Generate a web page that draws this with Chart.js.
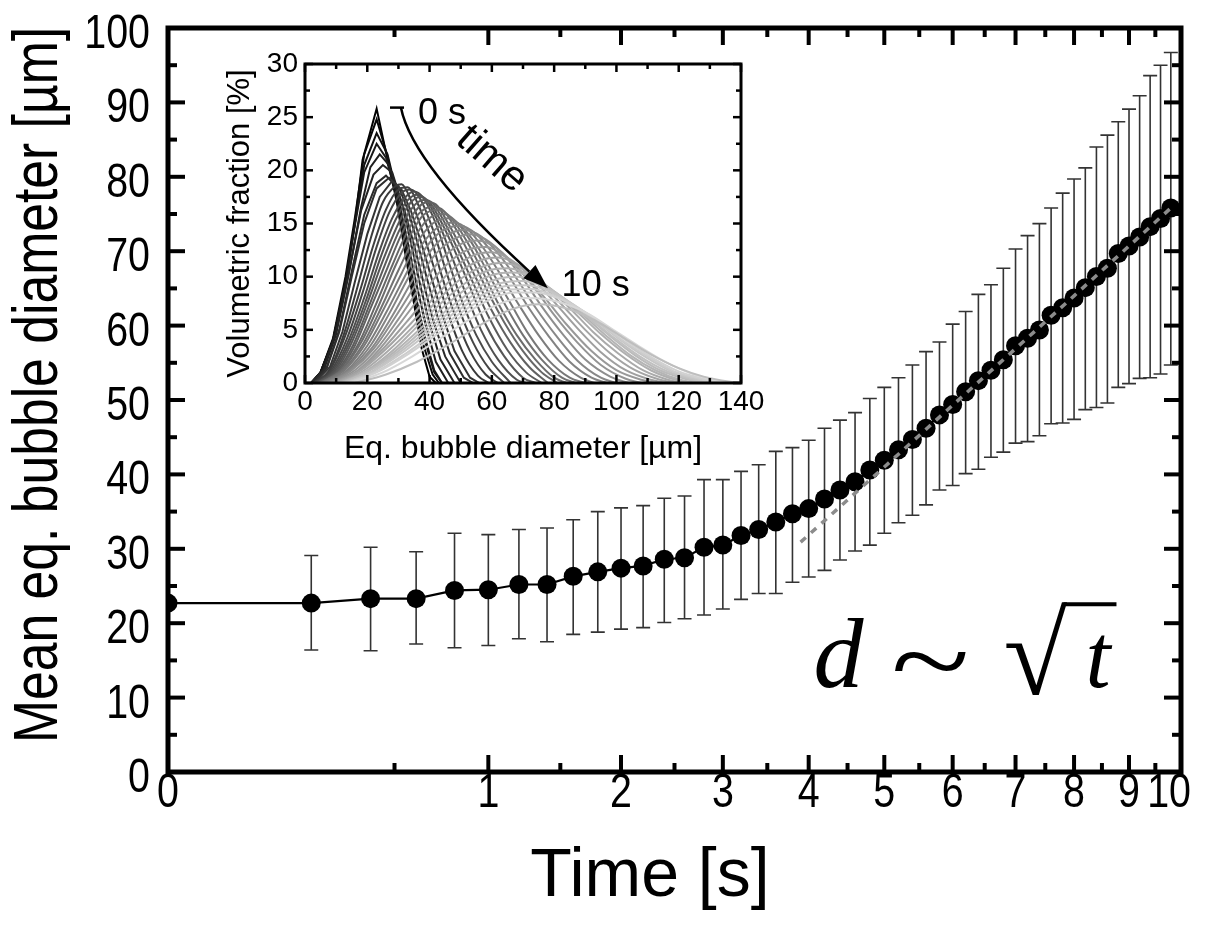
<!DOCTYPE html>
<html>
<head>
<meta charset="utf-8">
<script src="https://cdn.jsdelivr.net/npm/chart.js@4.4.1/dist/chart.umd.min.js"></script>
<style>
  html, body { margin: 0; padding: 0; background: #fff; }
  #wrap { position: relative; width: 1218px; height: 926px; }
  #main { position: absolute; left: 0; top: 0; }
  #inset { position: absolute; left: 200px; top: 40px; }
</style>
</head>
<body>
<div id="wrap">
  <canvas id="main" width="1218" height="926"></canvas>
  <canvas id="inset" width="580" height="430"></canvas>
</div>
<script>
// main plot: mean bubble diameter vs time (x axis is sqrt(t))
const timeS = [0, 0.2, 0.4, 0.6, 0.8, 1, 1.2, 1.4, 1.6, 1.8, 2, 2.2, 2.4, 2.6, 2.8, 3, 3.2, 3.4, 3.6, 3.8,
  4, 4.2, 4.4, 4.6, 4.8, 5, 5.2, 5.4, 5.6, 5.8, 6, 6.2, 6.4, 6.6, 6.8, 7, 7.2, 7.4, 7.6, 7.8,
  8, 8.2, 8.4, 8.6, 8.8, 9, 9.2, 9.4, 9.6, 9.8];
const meanDiam = [22.7, 22.7, 23.3, 23.3, 24.4, 24.5, 25.2, 25.2, 26.3, 26.9, 27.4, 27.7, 28.6, 28.8, 30.2, 30.5, 31.8, 32.6, 33.6, 34.7,
  35.4, 36.7, 37.9, 39.0, 40.6, 41.9, 43.3, 44.7, 46.2, 48.0, 49.4, 51.1, 52.6, 54.0, 55.4, 57.3, 58.3, 59.4, 61.4, 62.4,
  63.7, 65.1, 66.6, 67.7, 69.7, 70.7, 71.9, 73.3, 74.4, 75.8];
const errHigh = [null, 29.1, 30.2, 29.6, 32.1, 31.9, 32.6, 32.8, 33.9, 35.0, 35.5, 35.8, 36.8, 37.1, 39.3, 39.3, 40.4, 41.3, 43.1, 43.6,
  44.6, 46.2, 47.3, 48.3, 50.2, 51.7, 53.0, 54.7, 56.5, 57.8, 60.2, 61.9, 64.2, 65.5, 67.7, 70.3, 72.1, 73.7, 75.8, 77.8,
  79.7, 81.2, 84.0, 85.6, 87.4, 89.1, 90.9, 93.6, 95.0, 96.7];
const errLow = [null, 16.4, 16.3, 17.2, 16.7, 17.0, 17.9, 17.5, 18.5, 18.8, 19.2, 19.4, 20.1, 20.6, 21.1, 21.9, 23.2, 24.0, 24.0, 25.5,
  26.2, 27.1, 28.5, 29.7, 30.5, 32.1, 33.5, 34.5, 35.9, 37.9, 38.5, 40.1, 40.7, 42.3, 43.0, 44.2, 44.4, 45.2, 46.8, 46.9,
  47.4, 48.7, 49.0, 49.6, 51.7, 52.2, 52.9, 53.0, 53.5, 54.7];
// d ~ sqrt(t) fit, grey dashed
const fitTime = [3.9, 5, 6, 7, 8, 9, 9.8];
const fitDiam = [30.9, 41.0, 49.3, 56.9, 64.0, 70.7, 75.8];

const timeTicks = [0, 1, 2, 3, 4, 5, 6, 7, 8, 9, 10];
const timeMinor = [0.5, 1.5, 2.5, 3.5, 4.5, 5.5, 6.5, 7.5, 8.5, 9.5];
const diamTicks = [0, 10, 20, 30, 40, 50, 60, 70, 80, 90, 100];
const diamMinor = [5, 15, 25, 35, 45, 55, 65, 75, 85, 95];

// inset: size distributions, 0 s (black) -> 10 s (light grey), [diameter um, fraction %]
const insetCurves = [
  [[2,0],[5,1],[9,4],[13,9.5],[16,15],[18.5,21],[23,25.8],[26.5,21],[29.5,17],[32,12.5],[35,7.5],[37.5,3.2],[40,0.6],[42,0]],
  [[2,0],[5,1],[9,4.2],[13,10],[16,15.5],[19,21.5],[23,24.8],[26.5,21.3],[29.5,17.3],[32,13],[35,8],[38,3.6],[41,0.8],[43,0]],
  [[2,0],[5,1],[9,4],[13,9.5],[16,15],[19,20.5],[23,23.5],[26.5,21.5],[29.5,17.8],[32.5,13],[35.5,8.3],[38.5,4],[41.5,1],[44,0]],
  [[2,0],[5,1],[9,4],[13,9.5],[16,14.8],[19,19.8],[23,22.5],[26,21.2],[29,18],[32,13.5],[35,8.7],[38.5,4.3],[41.5,1.2],[44,0]],
  [[2,0],[6,1.2],[10,4.6],[14,10.2],[18,16.5],[21,20.3],[24,21.5],[27,20.5],[30,17.3],[33,13.2],[36,9],[39,5.2],[42,2],[46,0]],
  [[2,0],[6,1.3],[10,4.8],[14,10.3],[18,16.2],[22,19.6],[25,20.5],[28,19.8],[31,17],[34,13.2],[37,9.2],[40,5.6],[43.5,2.2],[48,0]],
  [[2,0],[7,1.5],[11,5],[15,10.5],[19,15.8],[23,18.8],[26,19.5],[29,18.6],[32,16.2],[35,13],[38,9.5],[41,6],[45,2.5],[50,0]],
  [[3,0],[7,1.4],[11,4.8],[15,10],[19,15],[23,18.3],[27,19.3],[30,18.5],[33,16.3],[36,13.3],[39,10],[42.5,6.3],[46.5,2.8],[51,0.5],[54,0]],
  [[3,0],[8,1.5],[12,4.8],[16,9.5],[20,14],[24,17.5],[28,19],[31,18.2],[34,16.2],[37,13.5],[40,10.5],[44,6.5],[48,3],[53,0.5],[56,0]],
  [[3,0],[8,1.3],[12.5,4.6],[17,9.2],[21,13.5],[25,17],[29,18.5],[31,18.7],[34,17.2],[38,14],[42,10.3],[46,6.5],[50.5,3],[55.5,0.7],[59,0]],
  [[3,0],[8,1.2],[13,4.5],[18,9],[22,13],[26,16.3],[30,18.2],[33,18.4],[36,17],[40,14],[44,10],[48,6.5],[53,3],[58,0.8],[62,0]],
  [[3.5,0],[8.5,1.2],[13.5,4.2],[18.5,8.5],[23,12.8],[27,16],[31,17.9],[34,18.2],[37,17.3],[41,14.5],[45,10.8],[49,7.3],[54,3.8],[59,1.4],[64,0]],
  [[4,0],[9,1.2],[14,4],[19,8],[24,12.5],[28,15.5],[32,17.4],[35,18],[38,17.4],[42,15],[46,11.5],[50,8],[55,4.5],[60,2],[66,0]],
  [[4,0],[9.5,1.2],[14.5,3.9],[19.5,7.7],[24.5,12],[29,15.3],[33,17.2],[36,17.7],[39,17.2],[43,15],[47,12],[51.5,8.5],[56.5,5],[62,2.2],[68,0.3],[71,0]],
  [[4,0],[10,1.2],[15,3.8],[20,7.5],[25,11.5],[30,15],[34,17],[37,17.5],[40,17],[44,15],[48,12.5],[53,9],[58,5.5],[64,2.5],[70,0.5],[74,0]],
  [[4.5,0],[10.5,1.2],[15.5,3.6],[20.5,7.2],[25.5,11],[30.5,14.5],[34.5,16.5],[38,17.2],[41,16.9],[45,15],[49,12.6],[54,9.4],[59,6.2],[65,3.1],[71,1],[76,0]],
  [[5,0],[11,1.2],[16,3.5],[21,7],[26,10.5],[31,14],[35,16],[39,17],[42,16.8],[46,15],[50,12.8],[55,9.8],[60,6.8],[66,3.8],[72,1.5],[78,0]],
  [[5,0],[11.5,1.2],[17,3.6],[22.5,7.2],[27.5,10.7],[32.5,14],[36.5,15.9],[41,16.6],[44.5,16.2],[49,14.2],[53.5,11.7],[58.5,8.7],[64,5.7],[70,3],[76,1],[81,0]],
  [[5,0],[12,1.3],[18,3.8],[24,7.5],[29,11],[34,14],[38,15.8],[43,16.3],[47,15.5],[52,13.3],[57,10.5],[62,7.5],[68,4.5],[74,2.2],[80,0.5],[84,0]],
  [[5.5,0],[12.5,1.3],[18.5,3.6],[24.5,7.1],[30,10.6],[35,13.6],[39.5,15.4],[44.5,15.9],[48.5,15.2],[53.5,13.2],[58.5,10.5],[64,7.5],[70,4.5],[76,2.2],[82.5,0.5],[87,0]],
  [[6,0],[13,1.3],[19,3.5],[25,6.8],[31,10.3],[36,13.2],[41,15],[46,15.5],[50,14.8],[55,13],[60,10.5],[66,7.5],[72,4.5],[78,2.2],[85,0.5],[90,0]],
  [[6.5,0],[13.5,1.2],[20,3.5],[26,6.6],[32,10],[37.5,13],[42.5,14.6],[48,15.1],[52.5,14.4],[57.5,12.6],[63,10.1],[69,7.2],[75,4.5],[81.5,2.1],[88.5,0.5],[93,0]],
  [[7,0],[14,1.2],[21,3.5],[27,6.5],[33,9.8],[39,12.8],[44,14.3],[50,14.8],[55,14],[60,12.3],[66,9.8],[72,7],[78,4.5],[85,2],[92,0.5],[97,0]],
  [[7.5,0],[14.5,1.2],[21.5,3.3],[28,6.3],[34,9.4],[40,12.3],[45.5,13.9],[51.5,14.4],[56.5,13.8],[62,12.2],[68,9.8],[74,7.1],[80.5,4.5],[87.5,2.1],[95,0.5],[100,0]],
  [[8,0],[15,1.2],[22,3.2],[29,6.2],[35,9],[41,11.8],[47,13.4],[53,14],[58,13.5],[64,12],[70,9.8],[76,7.2],[83,4.5],[90,2.2],[98,0.6],[104,0]],
  [[8.5,0],[16,1.2],[23,3.2],[30,6],[36.5,8.8],[43,11.4],[49.5,13],[55.5,13.4],[61,12.8],[67,11.2],[73.5,9],[80,6.4],[87.5,3.8],[95,1.7],[103,0.4],[108,0]],
  [[9,0],[17,1.2],[24,3.2],[31,5.8],[38,8.5],[45,11],[52,12.5],[58,12.8],[64,12],[70,10.3],[77,8],[84,5.5],[92,3],[100,1.2],[108,0.3],[113,0]],
  [[9.5,0],[17.5,1.2],[25,3.2],[32.5,5.7],[40,8.3],[47,10.6],[54,12],[60,12.3],[66,11.6],[72.5,10],[79.5,7.8],[87,5.3],[95,2.9],[103,1.2],[111,0.3],[116,0]],
  [[10,0],[18,1.2],[26,3.2],[34,5.6],[42,8.2],[49,10.3],[56,11.5],[62,11.8],[68,11.2],[75,9.6],[82,7.5],[90,5],[98,2.8],[106,1.2],[114,0.3],[119,0]],
  [[10.5,0],[19,1.2],[27,3.1],[35,5.4],[43,7.9],[50.5,9.9],[57.5,11],[63.5,11.3],[70,10.7],[77,9.2],[84.5,7.2],[92.5,4.8],[100.5,2.8],[108.5,1.2],[116.5,0.3],[121,0]],
  [[11,0],[20,1.2],[28,3],[36,5.3],[44,7.6],[52,9.5],[59,10.6],[65,10.8],[72,10.2],[79,8.8],[87,6.8],[95,4.6],[103,2.7],[111,1.2],[119,0.3],[124,0]],
  [[11.5,0],[20.5,1.2],[29,3],[37,5.1],[45.5,7.4],[53.5,9.2],[60.5,10.2],[66.5,10.4],[73.5,9.9],[80.5,8.5],[88.5,6.6],[96.5,4.5],[104.5,2.6],[112.5,1.2],[120.5,0.3],[126,0]],
  [[12,0],[21,1.2],[30,3],[38,5],[47,7.2],[55,8.9],[62,9.8],[68,10],[75,9.5],[82,8.2],[90,6.4],[98,4.4],[106,2.6],[114,1.2],[122,0.4],[128,0]],
  [[12.5,0],[21.5,1.1],[30.5,2.9],[39,4.9],[48,7],[56,8.6],[63,9.4],[69.5,9.6],[76.5,9.1],[83.5,7.9],[91.5,6.1],[99.5,4.2],[107.5,2.5],[115.5,1.2],[123.5,0.4],[129,0]],
  [[13,0],[22,1.1],[31,2.8],[40,4.8],[49,6.8],[57,8.3],[64,9.1],[71,9.2],[78,8.7],[85,7.6],[93,5.9],[101,4.1],[109,2.5],[117,1.2],[125,0.4],[131,0]],
  [[13.5,0],[22.5,1],[32,2.7],[41,4.6],[50,6.6],[58,8],[65.5,8.8],[72.5,8.85],[79.5,8.3],[86.5,7.3],[94.5,5.7],[102.5,3.9],[110.5,2.4],[118.5,1.1],[126.5,0.4],[132,0]],
  [[14,0],[23,1],[33,2.7],[42,4.5],[51,6.4],[59,7.8],[67,8.5],[74,8.5],[81,8],[88,7],[96,5.5],[104,3.8],[112,2.3],[120,1.1],[128,0.4],[134,0]],
  [[15,0],[25,1],[35,2.6],[44,4.3],[53,6],[62,7.4],[70,8],[77,7.9],[84,7.4],[91,6.5],[99,5],[107,3.5],[115,2.1],[123,1],[131,0.3],[137,0]],
  [[16,0],[26,0.8],[36,2],[46,3.6],[56,5.4],[66,6.9],[75,7.4],[84,7],[93,5.9],[102,4.3],[111,2.7],[120,1.4],[128,0.6],[136,0.15],[140,0.05]]
];
const insetDiamMinor = [10, 30, 50, 70, 90, 110, 130];
const insetFracMinor = [2.5, 7.5, 12.5, 17.5, 22.5, 27.5];

// annotation anchors (data coords)
const lawAt = { t: 4.06, d: 11.4 };
const arrowBar = [[27.3, 25.9], [31.8, 25.9]];
const arrowPath = [[30.8, 25.9], [34.4, 20.5], [78.0, 8.9]];

Chart.defaults.font.family = '"Liberation Sans", Arial, sans-serif';
Chart.defaults.color = '#000';

const SANS = '"Liberation Sans", Arial, sans-serif';
const sq = t => Math.sqrt(t);

// text helper: optional rotation and horizontal squeeze (figure font is narrow)
function putText(ctx, text, x, y, o) {
  ctx.save();
  ctx.translate(x, y);
  if (o.rot) ctx.rotate(o.rot);
  ctx.scale(o.sx || 1, 1);
  ctx.font = o.font;
  ctx.textAlign = o.align || 'center';
  ctx.textBaseline = 'alphabetic';
  ctx.fillStyle = '#000';
  ctx.fillText(text, 0, o.dy || 0);
  ctx.restore();
}

// inward ticks on all four sides + thick box
const framePlugin = {
  id: 'frame',
  afterDraw(chart, args, o) {
    const { ctx, chartArea: a, scales: { x, y } } = chart;
    ctx.save();
    ctx.strokeStyle = '#000';
    ctx.lineWidth = o.tickWidth;
    const seg = (x1, y1, x2, y2) => { ctx.beginPath(); ctx.moveTo(x1, y1); ctx.lineTo(x2, y2); ctx.stroke(); };
    const xt = (v, len) => { const p = x.getPixelForValue(v); seg(p, a.bottom, p, a.bottom - len); seg(p, a.top, p, a.top + len); };
    const yt = (v, len) => { const p = y.getPixelForValue(v); seg(a.left, p, a.left + len, p); seg(a.right, p, a.right - len, p); };
    x.ticks.forEach(t => xt(t.value, o.major));
    o.xMinor.forEach(v => xt(v, o.minor));
    y.ticks.forEach(t => yt(t.value, o.major));
    o.yMinor.forEach(v => yt(v, o.minor));
    ctx.lineWidth = o.lineWidth;
    ctx.strokeRect(a.left, a.top, a.right - a.left, a.bottom - a.top);
    ctx.restore();
  }
};

// tick labels and axis titles of the main plot
const mainLabels = {
  id: 'mainLabels',
  afterDraw(chart) {
    const { ctx, chartArea: a, scales: { x, y } } = chart;
    const tickFont = `48px ${SANS}`;
    ctx.save();
    ctx.font = tickFont;
    timeTicks.forEach(t => {
      const w = ctx.measureText(String(t)).width * 0.82;
      const p = Math.min(x.getPixelForValue(sq(t)), chart.width - 27 - w / 2);
      putText(ctx, String(t), p, a.bottom + 35, { font: tickFont, sx: 0.82 });
    });
    ctx.restore();
    diamTicks.forEach(v => {
      putText(ctx, String(v), a.left - 18, y.getPixelForValue(v) + 20, { font: tickFont, sx: 0.82, align: 'right' });
    });
    putText(ctx, 'Time [s]', 650, 896, { font: `68px ${SANS}` });
    putText(ctx, 'Mean eq. bubble diameter [\u00B5m]', 40, 385, { font: `63px ${SANS}`, sx: 0.82, rot: -Math.PI / 2, dy: 17 });
  }
};

const errorBarPlugin = {
  id: 'errorBars',
  beforeDatasetsDraw(chart) {
    const { ctx, scales: { x, y } } = chart;
    ctx.save();
    ctx.strokeStyle = '#333';
    ctx.lineWidth = 1.6;
    timeS.forEach((t, i) => {
      if (errHigh[i] == null) return;
      const px = x.getPixelForValue(sq(t));
      const hi = y.getPixelForValue(errHigh[i]);
      const lo = y.getPixelForValue(errLow[i]);
      ctx.beginPath();
      ctx.moveTo(px, hi); ctx.lineTo(px, lo);
      ctx.moveTo(px - 7, hi); ctx.lineTo(px + 7, hi);
      ctx.moveTo(px - 7, lo); ctx.lineTo(px + 7, lo);
      ctx.stroke();
    });
    ctx.restore();
  }
};

const lawPlugin = {
  id: 'law',
  afterDraw(chart) {
    const { ctx, scales: { x, y } } = chart;
    const px = x.getPixelForValue(sq(lawAt.t));
    const base = y.getPixelForValue(lawAt.d);
    ctx.save();
    ctx.fillStyle = '#000';
    ctx.strokeStyle = '#000';
    ctx.textBaseline = 'alphabetic';
    ctx.textAlign = 'left';
    ctx.font = 'italic 100px "Liberation Serif"';
    ctx.fillText('d', px, base);
    ctx.restore();
    // thin math tilde
    putText(ctx, '~', px + 117, base + 12, { font: '112px "Liberation Serif"', sx: 1.3 });
    ctx.save();
    ctx.fillStyle = '#000';
    ctx.strokeStyle = '#000';
    ctx.textBaseline = 'alphabetic';
    ctx.textAlign = 'left';
    ctx.font = '116px "Liberation Serif"';
    const rx = px + 190;
    ctx.fillText('\u221A', rx, base + 7);
    const m = ctx.measureText('\u221A');
    const topY = base + 7 - m.actualBoundingBoxAscent;
    const rEnd = rx + m.actualBoundingBoxRight;
    ctx.font = 'italic 90px "Liberation Serif"';
    const tx = rEnd + 18;
    ctx.fillText('t', tx, base);
    const tw = ctx.measureText('t').width;
    ctx.lineWidth = 4;
    ctx.beginPath();
    ctx.moveTo(rEnd - 4, topY + 2);
    ctx.lineTo(tx + tw + 6, topY + 2);
    ctx.stroke();
    ctx.restore();
  }
};

new Chart(document.getElementById('main'), {
  type: 'line',
  data: {
    datasets: [
      {
        label: 'fit',
        data: fitTime.map((t, i) => ({ x: sq(t), y: fitDiam[i] })),
        borderColor: '#8c8c8c',
        borderWidth: 3.5,
        borderDash: [7, 7],
        pointRadius: 0,
        fill: false
      },
      {
        label: 'mean',
        data: timeS.map((t, i) => ({ x: sq(t), y: meanDiam[i] })),
        borderColor: '#000',
        backgroundColor: '#000',
        borderWidth: 2.2,
        pointRadius: 9.5,
        pointBorderWidth: 0,
        pointBackgroundColor: '#000',
        clip: 0,
        fill: false
      }
    ]
  },
  options: {
    responsive: false,
    animation: false,
    events: [],
    layout: { padding: { left: 0, top: 28, right: 37, bottom: 0 } },
    plugins: {
      legend: { display: false },
      tooltip: { enabled: false },
      frame: { lineWidth: 5, tickWidth: 4, major: 17, minor: 9, xMinor: timeMinor.map(sq), yMinor: diamMinor }
    },
    scales: {
      x: {
        type: 'linear',
        min: 0,
        max: sq(10),
        afterBuildTicks: s => { s.ticks = timeTicks.map(t => ({ value: sq(t) })); },
        afterFit: s => { s.height = 154; },
        grid: { display: false, drawTicks: false },
        border: { display: false },
        ticks: { display: false },
        title: { display: false }
      },
      y: {
        type: 'linear',
        min: 0,
        max: 100,
        afterBuildTicks: s => { s.ticks = diamTicks.map(v => ({ value: v })); },
        afterFit: s => { s.width = 168; },
        grid: { display: false, drawTicks: false },
        border: { display: false },
        ticks: { display: false },
        title: { display: false }
      }
    }
  },
  plugins: [errorBarPlugin, framePlugin, lawPlugin, mainLabels]
});

// inset annotation: 0 s -> time -> 10 s
const timeArrowPlugin = {
  id: 'timeArrow',
  afterDraw(chart) {
    const { ctx, scales: { x, y } } = chart;
    const P = ([a, b]) => [x.getPixelForValue(a), y.getPixelForValue(b)];
    ctx.save();
    ctx.strokeStyle = '#000';
    ctx.fillStyle = '#000';
    ctx.lineWidth = 2.5;
    const [b0, b1] = arrowBar.map(P);
    ctx.beginPath(); ctx.moveTo(b0[0], b0[1]); ctx.lineTo(b1[0], b1[1]); ctx.stroke();
    const [s, c, e] = arrowPath.map(P);
    const ang = Math.atan2(e[1] - c[1], e[0] - c[0]);
    const headLen = 25, headW = 9;
    const bx = e[0] - headLen * Math.cos(ang), by = e[1] - headLen * Math.sin(ang);
    ctx.beginPath(); ctx.moveTo(s[0], s[1]); ctx.quadraticCurveTo(c[0], c[1], bx, by); ctx.stroke();
    ctx.beginPath();
    ctx.moveTo(e[0], e[1]);
    ctx.lineTo(bx + headW * Math.sin(ang), by - headW * Math.cos(ang));
    ctx.lineTo(bx - headW * Math.sin(ang), by + headW * Math.cos(ang));
    ctx.closePath(); ctx.fill();
    ctx.restore();

    let p = P([36.3, 25.6]);
    putText(ctx, '0 s', p[0], p[1] + 13, { font: `36px ${SANS}`, align: 'left' });
    p = P([82.4, 9.4]);
    putText(ctx, '10 s', p[0], p[1] + 13, { font: `36px ${SANS}`, align: 'left' });
    p = P([60.5, 21.2]);
    putText(ctx, 'time', p[0], p[1], { font: `42px ${SANS}`, rot: 0.72, dy: 14 });
  }
};

const nCurves = insetCurves.length;
new Chart(document.getElementById('inset'), {
  type: 'line',
  data: {
    datasets: insetCurves.map((pts, i) => {
      const g = i < 3 ? i * 8 : Math.round(24 + 191 * (i - 3) / (nCurves - 5));
      const gg = i === nCurves - 1 ? 190 : Math.min(g, 215);
      return {
        data: pts.map(([a, b]) => ({ x: a, y: b })),
        borderColor: `rgb(${gg},${gg},${gg})`,
        borderWidth: 2,
        pointRadius: 0,
        cubicInterpolationMode: i < 9 ? 'default' : 'monotone',
        tension: 0,
        order: nCurves - i,
        fill: false
      };
    })
  },
  options: {
    responsive: false,
    animation: false,
    events: [],
    layout: { padding: { left: 0, top: 24, right: 39, bottom: 0 } },
    plugins: {
      legend: { display: false },
      tooltip: { enabled: false },
      frame: { lineWidth: 3, tickWidth: 2.5, major: 8, minor: 5, xMinor: insetDiamMinor, yMinor: insetFracMinor }
    },
    scales: {
      x: {
        type: 'linear', min: 0, max: 140,
        ticks: { stepSize: 20, autoSkip: false, maxRotation: 0, padding: 5, font: { size: 28, lineHeight: 1 } },
        afterFit: s => { s.height = 87; },
        grid: { display: false, drawTicks: false },
        border: { display: false },
        title: { display: true, text: 'Eq. bubble diameter [\u00B5m]', font: { size: 32 }, padding: { top: 0, bottom: 2 } }
      },
      y: {
        type: 'linear', min: 0, max: 30,
        ticks: { stepSize: 5, padding: 7, font: { size: 28, lineHeight: 1 } },
        afterFit: s => { s.width = 105; },
        grid: { display: false, drawTicks: false },
        border: { display: false },
        title: { display: true, text: 'Volumetric fraction [%]', font: { size: 31 }, padding: { top: 22, bottom: 0 } }
      }
    }
  },
  plugins: [framePlugin, timeArrowPlugin]
});
</script>
</body>
</html>
